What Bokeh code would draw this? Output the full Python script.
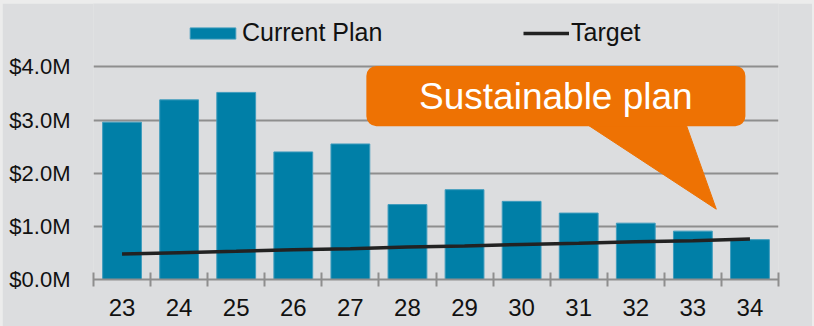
from bokeh.plotting import figure
from bokeh.models import (FixedTicker, Legend, LegendItem, BoxAnnotation, Label,
                          ColumnDataSource)
from bokeh.layouts import column
from bokeh.embed import file_html
from bokeh.resources import INLINE

# ---- data ----
years = ["23", "24", "25", "26", "27", "28", "29", "30", "31", "32", "33", "34"]
current_plan = [2.96, 3.38, 3.52, 2.40, 2.55, 1.41, 1.69, 1.47, 1.25, 1.06, 0.91, 0.75]
target = [0.48, 0.505, 0.53, 0.56, 0.58, 0.61, 0.63, 0.66, 0.68, 0.71, 0.73, 0.76]
y_ticks = [0, 1, 2, 3, 4]
y_tick_labels = ["$0.0M", "$1.0M", "$2.0M", "$3.0M", "$4.0M"]
callout_text = "Sustainable plan"

BG = "#DCDDDF"
BAR = "#007FA7"
ORANGE = "#EE7203"
GRID = "#8E8E8E"
FONT = "Liberation Sans"

idx = list(range(len(years)))
src = ColumnDataSource(dict(x=idx, plan=current_plan, target=target))

p = figure(width=810, height=323, output_backend="svg", toolbar_location=None,
           x_range=(-0.5, len(years) - 0.5), y_range=(0, 5.193),
           min_border_left=91, min_border_right=34, min_border_top=0,
           min_border_bottom=47, margin=(3, 2, 0, 2))
p.background_fill_color = BG
p.border_fill_color = BG
p.outline_line_color = None

bars = p.vbar(x="x", top="plan", width=0.68, source=src, fill_color=BAR,
              line_color="#3F9CBD", line_width=1)
line = p.line(x="x", y="target", source=src, line_color="#222222", line_width=3.5)

# y axis
p.yaxis.ticker = FixedTicker(ticks=y_ticks)
p.yaxis.major_label_overrides = {t: l for t, l in zip(y_ticks, y_tick_labels)}
p.yaxis.axis_line_color = None
p.yaxis.major_tick_line_color = None
p.yaxis.minor_tick_line_color = None
p.yaxis.major_label_text_font = FONT
p.yaxis.major_label_text_font_size = "22px"
p.yaxis.major_label_text_color = "#111111"
p.yaxis.major_label_standoff = 17

# x axis
bounds = [i - 0.5 for i in range(len(years) + 1)]
p.xaxis.ticker = FixedTicker(ticks=idx, minor_ticks=bounds)
p.xaxis.major_label_overrides = {i: y for i, y in zip(idx, years)}
p.xaxis.axis_line_color = GRID
p.xaxis.axis_line_width = 2
p.xaxis.major_tick_line_color = None
p.xaxis.minor_tick_line_color = GRID
p.xaxis.minor_tick_line_width = 2
p.xaxis.minor_tick_in = 7
p.xaxis.minor_tick_out = 7
p.xaxis.major_label_text_font = FONT
p.xaxis.major_label_text_font_size = "24px"
p.xaxis.major_label_text_color = "#111111"
p.xaxis.major_label_standoff = 12

p.xgrid.grid_line_color = None
p.ygrid.grid_line_color = GRID
p.ygrid.grid_line_width = 2

# callout
box = BoxAnnotation(left=4.28, right=10.92, bottom=2.884, top=4.019,
                    fill_color=ORANGE, fill_alpha=1, line_color=None,
                    border_radius=10)
p.add_layout(box)
p.patch(x=[8.1, 9.87, 10.41], y=[2.95, 2.95, 1.323], fill_color=ORANGE,
        line_color=ORANGE, line_width=1, line_join="round")
p.add_layout(Label(x=7.6, y=3.45, text=callout_text, text_align="center",
                   text_baseline="middle", text_color="white",
                   text_font=FONT, text_font_size="37px"))

common = dict(orientation="horizontal", padding=0, margin=0,
              background_fill_alpha=0, border_line_color=None,
              label_text_font=FONT, label_text_font_size="25px",
              label_text_color="#111111")
legend_bar = Legend(items=[LegendItem(label="Current Plan", renderers=[bars])],
                    location=(91, 232), glyph_width=57, glyph_height=14,
                    label_standoff=1, **common)
legend_line = Legend(items=[LegendItem(label="Target", renderers=[line])],
                     location=(430, 232), glyph_width=46, glyph_height=14,
                     label_standoff=2, **common)
p.add_layout(legend_bar)
p.add_layout(legend_line)

layout = column(p, width=814, height=326, styles={"background-color": "#ECECEC"})

open("out.html", "w").write(file_html(layout, INLINE))
